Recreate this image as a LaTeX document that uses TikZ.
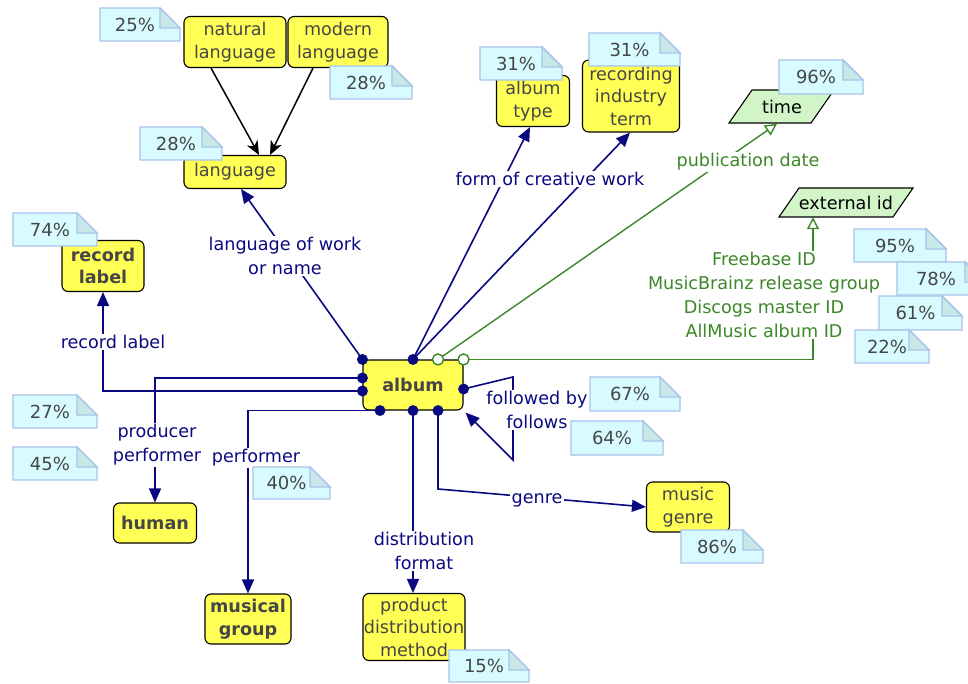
\documentclass[tikz,border=0pt]{standalone}
\usepackage{fontspec}
\setmainfont{DejaVu Sans}
\usetikzlibrary{arrows.meta,calc}
\definecolor{navy}{RGB}{10,10,128}
\definecolor{grn}{RGB}{60,135,40}
\definecolor{ybox}{RGB}{255,255,85}
\definecolor{ntext}{RGB}{70,70,70}
\definecolor{notefill}{RGB}{215,251,255}
\definecolor{noteedge}{RGB}{170,195,235}
\definecolor{notefold}{RGB}{200,232,232}
\definecolor{parafill}{RGB}{210,245,200}
\tikzset{
  concept/.style={draw=black, line width=1.1pt, fill=ybox, rounded corners=6pt, align=center,
    text=ntext, inner sep=0pt, font=\fontsize{17.6}{22.5}\selectfont},
  boldc/.style={concept, font=\fontsize{17.6}{22.5}\selectfont\bfseries},
  ptext/.style={inner sep=0pt, text=black, font=\fontsize{17.6}{22}\selectfont},
  lbl/.style={text=navy, fill=white, align=center, inner sep=1.5pt, font=\fontsize{17.6}{24}\selectfont},
  glbl/.style={lbl, text=grn},
  pct/.style={text=ntext, inner sep=0pt, font=\fontsize{18}{22}\selectfont},
  link/.style={draw=navy, line width=1.6pt},
  narrow/.style={link, -{Triangle[length=14pt,width=12pt]}},
  blkarrow/.style={draw=black, line width=1.5pt, -{Stealth[length=14pt,width=12pt,inset=4pt]}},
  glink/.style={draw=grn, line width=1.4pt},
  garrow/.style={glink, -{Triangle[open,fill=white,length=12pt,width=12pt]}},
  dot/.style={fill=navy},
  gdot/.style={draw=grn, line width=1.4pt, fill=white},
}
\newcommand\pctnote[6]{%
  \filldraw[draw=noteedge, fill=notefill, line width=1.4pt] (#2,#3) -- (#4-20,#3) -- (#4,#3+20) -- (#4,#5) -- (#2,#5) -- cycle;
  \filldraw[draw=noteedge, fill=notefold, line width=1.4pt] (#4-20,#3) -- (#4-20,#3+20) -- (#4,#3+20) -- cycle;
  \node[pct] (#1) at ({(#2+#4)/2-5},{(#3+#5)/2}) {#6};}
\begin{document}
\begin{tikzpicture}[x=1pt,y=-1pt]
\useasboundingbox (0,0) rectangle (968,684);
\fill[white] (0,0) rectangle (968,684);

% concept nodes
\node[concept, minimum width=102, minimum height=51] (natlang) at (235,42) {natural\\language};
\node[concept, minimum width=100, minimum height=51] (modlang) at (338,42) {modern\\language};
\node[concept, minimum width=102, minimum height=33] (lang) at (235,172) {language};
\node[concept, minimum width=73, minimum height=51] (albtype) at (533,101) {album\\type};
\node[concept, minimum width=97, minimum height=72] (rec) at (631,96) {recording\\industry\\term};
\node[boldc, minimum width=82, minimum height=51] (reclab) at (103,266) {record\\label};
\node[boldc, minimum width=100, minimum height=50] (album) at (413,385) {album};
\node[boldc, minimum width=83, minimum height=40] (human) at (155,523) {human};
\node[boldc, minimum width=86, minimum height=50] (mgroup) at (248,619) {musical\\group};
\node[concept, minimum width=102, minimum height=67] (pdm) at (414,627) {product\\distribution\\method};
\node[concept, minimum width=83, minimum height=50] (mgenre) at (688,507) {music\\genre};

% property-type nodes (parallelograms)
\filldraw[draw=black, fill=parafill, line width=1.1pt] (752,90) -- (834,90) -- (811,123) -- (729,123) -- cycle;
\node[ptext, minimum height=33] (time) at (782,107) {time};
\filldraw[draw=black, fill=parafill, line width=1.1pt] (799,188) -- (913,188) -- (893,217) -- (779,217) -- cycle;
\node[ptext, minimum height=29] (ext) at (846,202.5) {external id};

% album connection points
\coordinate (dTL) at (album.north west);
\coordinate (dT) at (album.north);
\coordinate (gT1) at ([xshift=25]album.north);
\coordinate (gT2) at (album.north east);
\coordinate (dL1) at ([yshift=-6]album.west);
\coordinate (dL2) at ([yshift=7]album.west);
\coordinate (dR) at ([yshift=-4]album.east);
\coordinate (dB1) at ([xshift=-33]album.south);
\coordinate (dB2) at (album.south);
\coordinate (dB3) at ([xshift=25]album.south);
\coordinate (fb1) at (513,377);
\coordinate (fb2) at (513,460);
\coordinate (gb) at (438,489);

% black subclass arrows
\draw[blkarrow] ([xshift=-24]natlang.south) -- ([xshift=24]lang.north);
\draw[blkarrow] ([xshift=-25]modlang.south) -- ([xshift=35]lang.north);

% navy connectors
\draw[narrow] (dTL) -- ([xshift=6]lang.south);
\draw[narrow] (dT) -- ([xshift=-3]albtype.south);
\draw[narrow] (dT) -- ([xshift=-1]rec.south);
\draw[narrow] (dL1) -| (reclab.south);
\draw[narrow] (dL2) -| (human.north);
\draw[narrow] (dB1) -| (mgroup.north);
\draw[narrow] (dB2) -- ([xshift=-1]pdm.north);
\draw[narrow] (dB3) -- (gb) -- (mgenre.west);
\draw[narrow] (dR) -- (fb1) -- (fb2) -- ([shift={(2,2)}]album.south east);

% green connectors
\draw[garrow] (gT1) -- ([xshift=-5]time.south);
\draw[garrow] (gT2) -| ([xshift=-33]ext.south);

% labels
\node[lbl] (llang) at (285,256) {language of work\\or name};
\node[lbl] (lform) at (550,179) {form of creative work};
\node[glbl] (lpub) at (748,162) {publication date};
\node[glbl] (lext) at (764,295) {Freebase ID\\MusicBrainz release group\\Discogs master ID\\AllMusic album ID};
\node[lbl] (lrec) at (113,342) {record label};
\node[lbl] (lprod) at (157,445) {producer\\performer};
\node[lbl] (lperf) at (256,458) {performer};
\node[lbl] (ldist) at (424,551) {distribution\\format};
\node[lbl] (lgenre) at (537,500) {genre};
\node[lbl] (lfol) at (537,410) {followed by\\follows};

% dots
\foreach \p in {dTL,dT,dL1,dL2,dR,dB1,dB2,dB3} \fill[dot] (\p) circle (5.5pt);
\foreach \p in {gT1,gT2} \filldraw[gdot] (\p) circle (5.5pt);

% percentage notes
\pctnote{n25}{100}{8}{180}{41}{25\%}
\pctnote{n28m}{330}{66}{412}{99}{28\%}
\pctnote{n28l}{140}{127}{222}{160}{28\%}
\pctnote{n31a}{480}{47}{562}{80}{31\%}
\pctnote{n31r}{589}{33}{680}{66}{31\%}
\pctnote{n96}{779}{60}{863}{94}{96\%}
\pctnote{n95}{854}{229}{946}{262}{95\%}
\pctnote{n78}{897}{262}{985}{295}{78\%}
\pctnote{n61}{879}{296}{962}{330}{61\%}
\pctnote{n22}{855}{330}{929}{363}{22\%}
\pctnote{n74}{13}{213}{97}{246}{74\%}
\pctnote{n27}{13}{395}{97}{428}{27\%}
\pctnote{n45}{13}{447}{97}{480}{45\%}
\pctnote{n40}{253}{467}{330}{499}{40\%}
\pctnote{n67}{590}{377}{680}{411}{67\%}
\pctnote{n64}{571}{421}{663}{455}{64\%}
\pctnote{n86}{681}{530}{763}{563}{86\%}
\pctnote{n15}{449}{650}{529}{682}{15\%}
\end{tikzpicture}
\end{document}
